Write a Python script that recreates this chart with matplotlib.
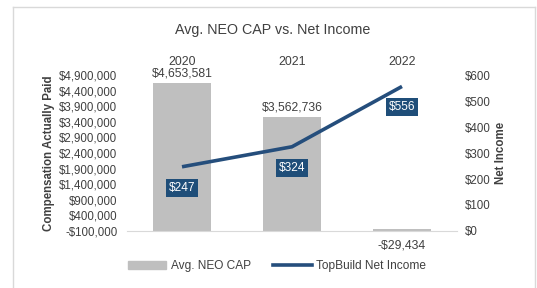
import numpy as np
import matplotlib.pyplot as plt
from matplotlib.lines import Line2D
from matplotlib.patches import Patch

plt.rcParams['font.family'] = ['Liberation Sans', 'DejaVu Sans']

years = ['2020', '2021', '2022']
neo_cap = [4653581, 3562736, -29434]
net_income = [247, 324, 556]
cap_ticks = list(range(-100000, 4900001, 500000))
ni_ticks = list(range(0, 601, 100))

bar_color = '#BFBFBF'
line_color = '#254E7C'
text_color = '#404040'
W, H = 537, 288


def money(v):
    return f"-${-v:,.0f}" if v < 0 else f"${v:,.0f}"


fig = plt.figure(figsize=(W / 100, H / 100), dpi=100)

# light frame around the chart
for xs, ys in [([13, 13], [0, 281]), ([13, 535], [281, 281]), ([535, 535], [281, 0])]:
    fig.add_artist(Line2D([x / W for x in xs], [y / H for y in ys], color='#D9D9D9', lw=1))

ax = fig.add_axes([127 / W, (H - 231) / H, 330 / W, 156 / H])
x = np.arange(len(years))
base = cap_ticks[0]
bars = ax.bar(x, np.array(neo_cap) - base, bottom=base, width=0.53, color=bar_color)
ax.set_xlim(-0.5, 2.5)
ax.set_ylim(cap_ticks[0], cap_ticks[-1])
ax.set_yticks(cap_ticks, [money(v) for v in cap_ticks])
ax.xaxis.tick_top()
ax.set_xticks(x, years)
ax.tick_params(axis='y', length=0, labelsize=8.3, labelcolor=text_color, pad=7)
ax.tick_params(axis='x', length=0, labelsize=8.9, labelcolor=text_color, pad=5)
for s in ['top', 'left', 'right']:
    ax.spines[s].set_visible(False)
ax.spines['bottom'].set_color('#D9D9D9')
ax.set_ylabel('Compensation Actually Paid', fontsize=8.3, fontweight='bold',
               color=text_color, labelpad=3)

for xi, v in zip(x, neo_cap):
    if v >= 0:
        ax.annotate(money(v), (xi, v), xytext=(0, 2), textcoords='offset points',
                    ha='center', va='bottom', fontsize=8.8, color=text_color)
    else:
        ax.annotate(money(v), (xi, base), xytext=(0, -6), textcoords='offset points',
                    ha='center', va='top', fontsize=8.8, color=text_color)

ax2 = ax.twinx()
ax2.plot(x, net_income, color=line_color, lw=2.6, solid_capstyle='butt')
ax2.set_ylim(ni_ticks[0], ni_ticks[-1])
ax2.set_yticks(ni_ticks, [money(v) for v in ni_ticks])
ax2.tick_params(axis='y', length=0, labelsize=8.3, labelcolor=text_color, pad=6)
for s in ax2.spines.values():
    s.set_visible(False)
ax2.set_ylabel('Net Income', fontsize=8.3, fontweight='bold', color=text_color, labelpad=3)

for xi, v in zip(x, net_income):
    ax2.annotate(money(v), (xi, v), xytext=(0, -15), textcoords='offset points',
                 ha='center', va='center', fontsize=8.6, color='white',
                 bbox=dict(boxstyle='square,pad=0.25', fc='#1F4E79', ec='none'))

fig.text(273 / W, 1 - 30 / H, 'Avg. NEO CAP vs. Net Income', ha='center', va='center',
         fontsize=10.3, color=text_color)

handles = [Patch(color=bar_color), Line2D([], [], color=line_color, lw=2.6)]
fig.legend(handles, ['Avg. NEO CAP', 'TopBuild Net Income'], loc='center',
           bbox_to_anchor=(277 / W, 1 - 266 / H), ncol=2, frameon=False,
           fontsize=8.6, handlelength=3.2, handleheight=0.6, handletextpad=0.35,
           columnspacing=1.9, labelcolor=text_color)

fig.savefig('out.png', dpi=100)
